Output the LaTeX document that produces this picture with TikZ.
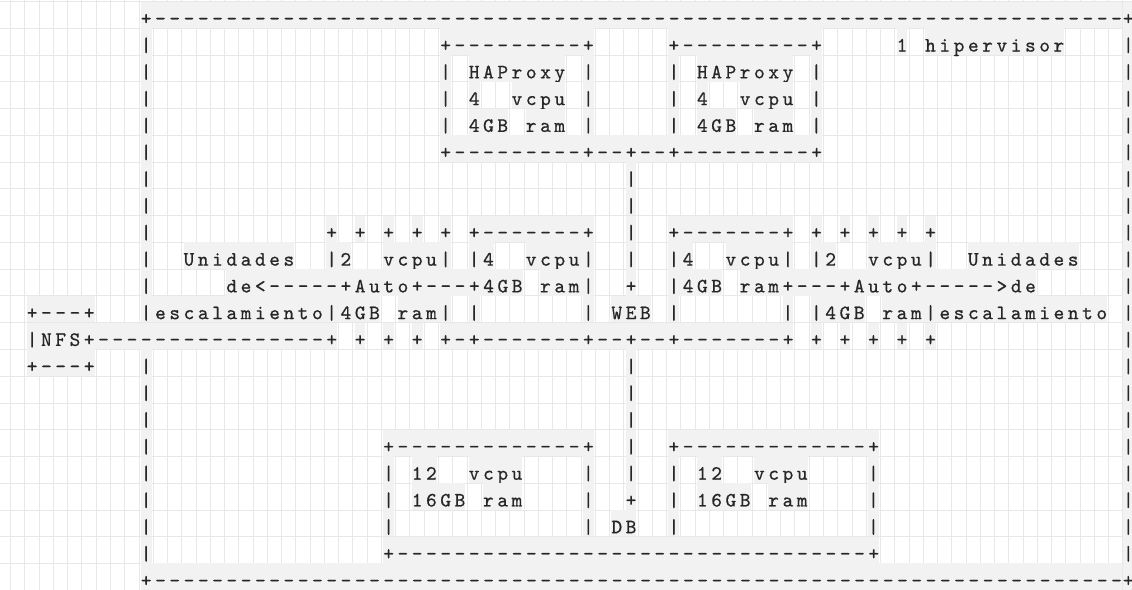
\documentclass[tikz,border=0pt]{standalone}
\usepackage{fontspec}
\usetikzlibrary{positioning}

\newfontfamily\asciifont{lmmono10-regular.otf}[LetterSpace=17.48, FakeBold=0.6]
\newcommand\asciitext{\asciifont\fontsize{14.5pt}{16pt}\selectfont
  \fontdimen2\font=10.145pt\fontdimen3\font=0pt\fontdimen4\font=0pt\frenchspacing}

\colorlet{gridgray}{black!9}
\colorlet{shadegray}{black!5}
\colorlet{inkgray}{black!85}

\tikzset{
  seg/.style={anchor=base west, inner sep=0pt, fill=shadegray, text=inkgray,
    font=\asciitext, text height=0.5815cm, text depth=0.08cm},
  edgemark/.style={anchor=base, inner sep=0pt, text=inkgray, font=\asciitext},
  gridline/.style={draw=gridgray, line width=0.6pt}
}

\begin{document}
\begin{tikzpicture}[x=0.025cm, y=-0.025cm]
  \useasboundingbox (0,0) rectangle (1132,590);
  \fill[white] (0,0) rectangle (1132,590);

  % grid paper
  \foreach \k in {-1,...,77}
    \draw[gridline] ({24.87+14.26*\k},0) -- ({24.87+14.26*\k},590);
  \foreach \k in {-1,...,21}
    \draw[gridline] (0,{28.3+26.76*\k}) -- (1132,{28.3+26.76*\k});

  % right hand column of the frame, cut by the page edge
  \fill[shadegray] (1122.9,1.54) rectangle (1132,590);
  \foreach \r/\s in {0/+,1/|,2/|,3/|,4/|,5/|,6/|,7/|,8/|,9/|,10/|,11/|,12/|,
                     13/|,14/|,15/|,16/|,17/|,18/|,19/|,20/|,21/+}
    \node[edgemark] (e\r) at (1126.5,{24.8+26.76*\r}) {\s\hspace*{-2.53pt}};

  % ascii drawing, one list of column/text pieces per row
  \foreach \r/\segs in {
    0/{8/+--------------------------------------------------------------------},
    1/{8/|, 29/+---------+, 45/+---------+, 61/1, 63/hipervisor},
    2/{8/|, 29/|, 31/HAProxy, 39/|, 45/|, 47/HAProxy, 55/|},
    3/{8/|, 29/|, 31/4, 34/vcpu, 39/|, 45/|, 47/4, 50/vcpu, 55/|},
    4/{8/|, 29/|, 31/4GB, 35/ram, 39/|, 45/|, 47/4GB, 51/ram, 55/|},
    5/{8/|, 29/+---------+--+--+---------+},
    6/{8/|, 42/|},
    7/{8/|, 42/|},
    8/{8/|, 21/+, 23/+, 25/+, 27/+, 29/+, 31/+-------+, 42/|, 45/+-------+, 55/+, 57/+, 59/+, 61/+, 63/+},
    9/{8/|, 11/Unidades, 21/|2, 25/vcpu|, 31/|4, 35/vcpu|, 42/|, 45/|4, 49/vcpu|, 55/|2, 59/vcpu|, 66/Unidades},
    10/{8/|, 14/de<-----+Auto+---+4GB, 36/ram|, 42/+, 45/|4GB, 50/ram+---+Auto+----->de},
    11/{0/+---+, 8/|escalamiento|4GB, 26/ram|, 31/|, 39/|, 41/WEB, 45/|, 53/|, 55/|4GB, 60/ram|escalamiento},
    12/{0/|NFS+----------------+, 23/+, 25/+, 27/+, 29/+-+-------+--+--+-------+, 55/+, 57/+, 59/+, 61/+, 63/+},
    13/{0/+---+, 8/|, 42/|},
    14/{8/|, 42/|},
    15/{8/|, 42/|},
    16/{8/|, 25/+-------------+, 42/|, 45/+-------------+},
    17/{8/|, 25/|, 27/12, 31/vcpu, 39/|, 42/|, 45/|, 47/12, 51/vcpu, 59/|},
    18/{8/|, 25/|, 27/16GB, 32/ram, 39/|, 42/+, 45/|, 47/16GB, 52/ram, 59/|},
    19/{8/|, 25/|, 39/|, 41/DB, 45/|, 59/|},
    20/{8/|, 25/+---------------------------------+},
    21/{8/+--------------------------------------------------------------------}}
  {
    \foreach \c/\s in \segs
      \node[seg] (s\r-\c) at ({26.5+14.26*\c},{24.8+26.76*\r}) {\s};
  }
\end{tikzpicture}
\end{document}
